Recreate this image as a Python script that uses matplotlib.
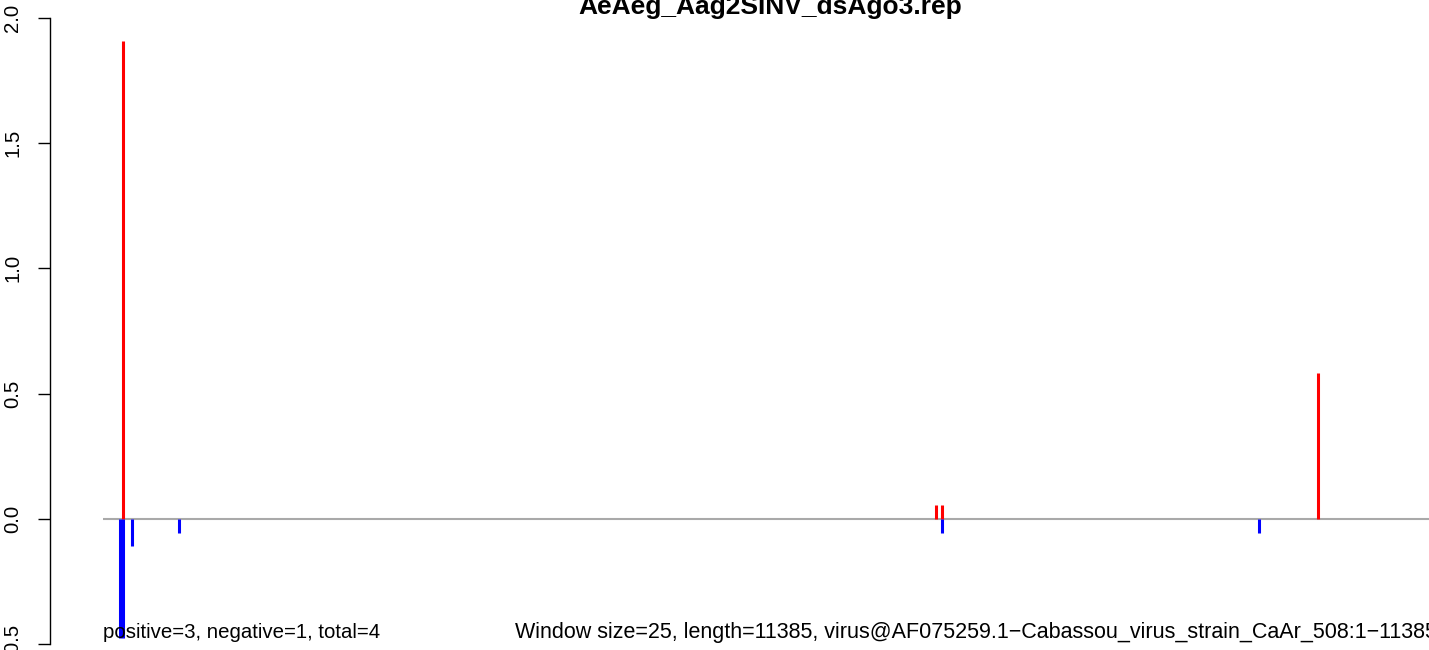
import numpy as np
import matplotlib.pyplot as plt

# genome positions (nt) and signal
pos_x = [166, 7108, 7161, 10372]
pos_y = [1.908, 0.056, 0.056, 0.584]
neg_x = [139, 166, 242, 645, 7161, 9868]
neg_y = [-0.475, -0.475, -0.107, -0.055, -0.055, -0.055]

genome_len = 11385
title = "AeAeg_Aag2SINV_dsAgo3.rep"
info_left = "positive=3, negative=1, total=4"
info_right = ("Window size=25, length=11385, "
              "virus@AF075259.1\u2212Cabassou_virus_strain_CaAr_508:1\u221211385")
yticks = [-0.5, 0.0, 0.5, 1.0, 1.5, 2.0]

plt.rcParams['font.family'] = ['Liberation Sans', 'DejaVu Sans']

W, H = 1429, 650
fig = plt.figure(figsize=(W / 100, H / 100), dpi=100)
# plot region runs a bit past the right edge of the picture (cropped)
left_px, right_px = 50, 1490
ax = fig.add_axes([left_px / W, 0, (right_px - left_px) / W, 1])

ext = 0.04 * genome_len
ax.set_xlim(-ext, genome_len + ext)
ax.set_ylim(-0.524, 2.072)

ax.hlines(0, 0, genome_len, color="#a9a9a9", linewidth=1.5, zorder=1)
ax.vlines(pos_x, 0, pos_y, color="red", linewidth=2.2, capstyle="butt", zorder=2)
ax.vlines(neg_x, 0, neg_y, color="blue", linewidth=2.2, capstyle="butt", zorder=2)

for s in ["top", "right", "bottom"]:
    ax.spines[s].set_visible(False)
ax.spines["left"].set_bounds(-0.5, 2.0)
ax.spines["left"].set_linewidth(1.0)
ax.set_xticks([])
ax.set_yticks(yticks)
ax.set_yticklabels([f"{v:.1f}".replace("-", "\u2212") for v in yticks],
                   rotation=90, va="center", fontsize=14.7)
ax.tick_params(axis="y", length=9, width=1.0, pad=11)

ax.text(0, -0.475, info_left, ha="left", va="baseline", fontsize=14.7)
ax.text(genome_len, -0.475, info_right, ha="right", va="baseline",
        fontsize=15.5, clip_on=False)

fig.text((left_px + right_px) / 2 / W, 1 - 14 / H, title, ha="center",
         va="baseline", fontsize=19, fontweight="bold")

fig.savefig("out.png", dpi=100)
